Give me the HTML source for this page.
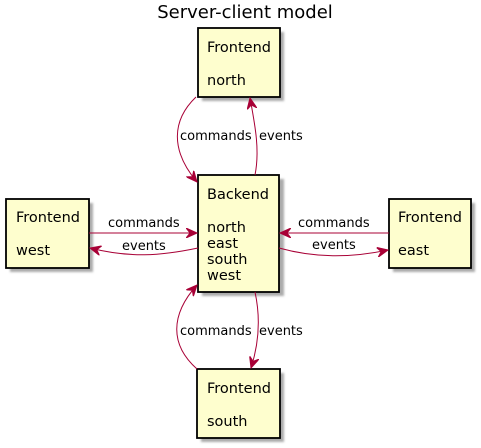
<!DOCTYPE html>
<html><head><meta charset="utf-8"><style>
html,body{margin:0;padding:0;background:#fff;}
svg{display:block;}
text{font-family:"DejaVu Sans","Liberation Sans",sans-serif;fill:#000;}
.box{fill:#FEFECE;stroke:#000;stroke-width:1.8;}
.sh{fill:#888;opacity:0.7;}
.ln{fill:none;stroke:#A80036;stroke-width:1;}
.bt{font-size:14.5px;}
.lb{font-size:13px;}
</style></head><body>
<svg width="481" height="448" viewBox="0 0 481 448" xmlns="http://www.w3.org/2000/svg">
<defs>
<filter id="b"><feGaussianBlur stdDeviation="1"/></filter>
<marker id="ar" viewBox="0 0 12 10" refX="11" refY="5" markerWidth="12" markerHeight="10" markerUnits="userSpaceOnUse" orient="auto">
<path d="M0,0 L11,5 L0,10 L4,5 Z" fill="#A80036" stroke="#A80036" stroke-width="1"/>
</marker>
</defs>
<text x="245" y="18" text-anchor="middle" style="font-size:18px">Server-client model</text>

<g filter="url(#b)">
<rect class="sh" x="202" y="32" width="82" height="69"/>
<rect class="sh" x="202" y="179" width="82" height="117"/>
<rect class="sh" x="10" y="203" width="83" height="69"/>
<rect class="sh" x="393" y="203" width="82" height="69"/>
<rect class="sh" x="201" y="373" width="83" height="69"/>
</g>
<rect class="box" x="198" y="28" width="82" height="69"/>
<rect class="box" x="198" y="175" width="81" height="117"/>
<rect class="box" x="6" y="199" width="83" height="69"/>
<rect class="box" x="389" y="199" width="82" height="69"/>
<rect class="box" x="197" y="369" width="83" height="69"/>

<text class="bt" x="207" y="52">Frontend</text>
<text class="bt" x="207" y="85">north</text>
<text class="bt" x="207" y="199">Backend</text>
<text class="bt" x="207" y="232">north</text>
<text class="bt" x="207" y="248">east</text>
<text class="bt" x="207" y="264">south</text>
<text class="bt" x="207" y="280">west</text>
<text class="bt" x="16" y="222">Frontend</text>
<text class="bt" x="16" y="255">west</text>
<text class="bt" x="398" y="222">Frontend</text>
<text class="bt" x="398" y="255">east</text>
<text class="bt" x="207" y="393">Frontend</text>
<text class="bt" x="207" y="426">south</text>

<path class="ln" d="M196,97 C172,120 170,150 197,182" marker-end="url(#ar)"/>
<path class="ln" d="M255,175 C260,150 255,125 250,98" marker-end="url(#ar)"/>
<text class="lb" x="180" y="140">commands</text>
<text class="lb" x="259" y="140">events</text>
<path class="ln" d="M89,233 L197,233" marker-end="url(#ar)"/>
<path class="ln" d="M198,248 C160,256 130,258 90,248" marker-end="url(#ar)"/>
<text class="lb" x="108" y="227">commands</text>
<text class="lb" x="122" y="250">events</text>
<path class="ln" d="M389,233 L280,233" marker-end="url(#ar)"/>
<path class="ln" d="M279,248 C315,258 350,258 388,250" marker-end="url(#ar)"/>
<text class="lb" x="298" y="227">commands</text>
<text class="lb" x="312" y="249">events</text>
<path class="ln" d="M197,369 C170,345 170,315 197,285" marker-end="url(#ar)"/>
<path class="ln" d="M255,292 C260,315 260,340 251,368" marker-end="url(#ar)"/>
<text class="lb" x="180" y="335">commands</text>
<text class="lb" x="259" y="335">events</text>
</svg>
</body></html>
